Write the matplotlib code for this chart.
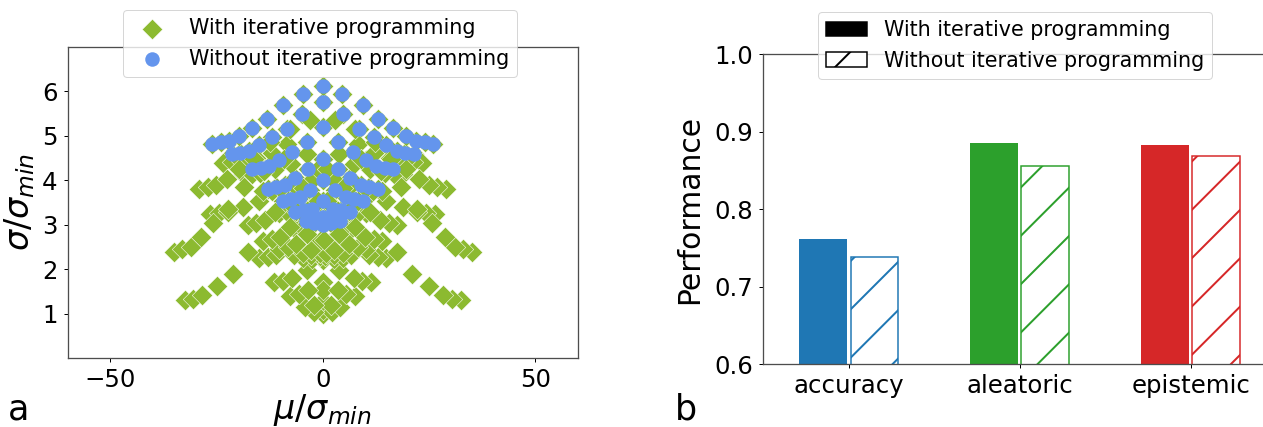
import numpy as np
import matplotlib.pyplot as plt
from matplotlib.patches import Patch

# ---------------- panel a : weight mean / std (in units of sigma_min) ----------------
# without iterative programming (blue dots)
blue_mu = [0, 0, 0, 0, 0, 0, 0, 0, 0,
           2, 4, 6.4, 9.4, 12.9, 16.6, 21.4, 26, -2, -4, -6.4, -9.4, -12.9, -16.6, -21.4, -26,
           2, 4.4, 7.4, 10.9, 14.6, 19.4, 24, -2, -4.4, -7.4, -10.9, -14.6, -19.4, -24,
           2.4, 5.4, 8.9, 12.6, 17.4, 22, -2.4, -5.4, -8.9, -12.6, -17.4, -22,
           3, 6.5, 10.2, 15, 19.6, -3, -6.5, -10.2, -15, -19.6,
           3.5, 7.2, 12, 16.6, -3.5, -7.2, -12, -16.6,
           3.7, 8.5, 13.1, -3.7, -8.5, -13.1,
           4.8, 9.4, -4.8, -9.4,
           4.6, -4.6]
blue_sigma = [3.00, 3.08, 3.18, 3.54, 4.00, 4.48, 5.20, 5.76, 6.12,
              3.04, 3.09, 3.28, 3.54, 3.81, 4.25, 4.59, 4.82, 3.04, 3.09, 3.28, 3.54, 3.81, 4.25, 4.59, 4.82,
              3.13, 3.32, 3.57, 3.85, 4.28, 4.62, 4.85, 3.13, 3.32, 3.57, 3.85, 4.28, 4.62, 4.85,
              3.36, 3.62, 3.89, 4.31, 4.65, 4.88, 3.36, 3.62, 3.89, 4.31, 4.65, 4.88,
              3.78, 4.04, 4.45, 4.78, 5.00, 3.78, 4.04, 4.45, 4.78, 5.00,
              4.25, 4.64, 4.96, 5.17, 4.25, 4.64, 4.96, 5.17,
              4.86, 5.16, 5.37, 4.86, 5.16, 5.37,
              5.49, 5.68, 5.49, 5.68,
              5.94, 5.94]

# with iterative programming: the points above plus these (green diamonds)
green_only_mu = [0, 0, 0, 0, 0, 0, 0, 0,
                 2.1, 4.1, 7.6, 11.4, 15.0, 32.5, 2.0, 5.5, 9.3, 12.9, 30.4, 3.5, 7.3, 10.9, 28.4,
                 3.8, 7.4, 24.9, 3.6, 21.1, 17.5,
                 -2.1, -4.1, -7.6, -11.4, -15.0, -32.5, -2.0, -5.5, -9.3, -12.9, -30.4, -3.5, -7.3, -10.9, -28.4,
                 -3.8, -7.4, -24.9, -3.6, -21.1, -17.5,
                 26.4, 24.3, 22.3, 18.8, 15.0, 11.4, 6.1,
                 -26.4, -24.3, -22.3, -18.8, -15.0, -11.4, -6.1,
                 -2.6, -0.6, 1.4, 3.8, 6.8, 10.3, 14.0, 18.8, 23.4,
                 2.6, 0.6, -1.4, -3.8, -6.8, -10.3, -14.0, -18.8, -23.4,
                 -4.7, -2.7, -0.7, 1.7, 4.7, 8.2, 11.9, 16.7, 21.3,
                 4.7, 2.7, 0.7, -1.7, -4.7, -8.2, -11.9, -16.7, -21.3,
                 -6.7, -4.7, -2.7, -0.3, 2.7, 6.2, 9.9, 14.7, 19.3,
                 6.7, 4.7, 2.7, 0.3, -2.7, -6.2, -9.9, -14.7, -19.3,
                 -10.2, -8.2, -6.2, -3.8, -0.8, 2.7, 6.4, 11.2, 15.8,
                 10.2, 8.2, 6.2, 3.8, 0.8, -2.7, -6.4, -11.2, -15.8,
                 -14.0, -12.0, -10.0, -7.6, -4.6, -1.1, 2.6, 7.4, 12.0,
                 14.0, 12.0, 10.0, 7.6, 4.6, 1.1, -2.6, -7.4, -12.0,
                 -17.6, -15.6, -13.6, -11.2, -8.2, -4.7, -1.0, 3.8, 8.4,
                 17.6, 15.6, 13.6, 11.2, 8.2, 4.7, 1.0, -3.8, -8.4,
                 -35.1, -33.1, -31.1, -28.7, -25.7, -22.2, -18.5, -13.7, -9.1,
                 35.1, 33.1, 31.1, 28.7, 25.7, 22.2, 18.5, 13.7, 9.1,
                 29.0, 27.0, 25.0, 22.6, 19.6, 16.1, 12.4, 7.6, 3.0,
                 -29.0, -27.0, -25.0, -22.6, -19.6, -16.1, -12.4, -7.6, -3.0]
green_only_sigma = [1.00, 1.08, 1.29, 1.71, 2.20, 3.01, 1.54, 4.47,
                    1.04, 1.15, 1.40, 1.71, 2.24, 1.30, 1.19, 1.43, 1.73, 2.26, 1.33, 1.52, 1.80, 2.31, 1.42,
                    1.97, 2.45, 1.63, 2.63, 1.90, 2.39,
                    1.04, 1.15, 1.40, 1.71, 2.24, 1.30, 1.19, 1.43, 1.73, 2.26, 1.33, 1.52, 1.80, 2.31, 1.42,
                    1.97, 2.45, 1.63, 2.63, 1.90, 2.39,
                    3.24, 3.25, 3.29, 3.39, 3.52, 3.81, 3.35,
                    3.24, 3.25, 3.29, 3.39, 3.52, 3.81, 3.35,
                    2.23, 2.29, 2.36, 2.60, 2.92, 3.25, 3.75, 4.13, 4.39,
                    2.23, 2.29, 2.36, 2.60, 2.92, 3.25, 3.75, 4.13, 4.39,
                    2.25, 2.31, 2.37, 2.61, 2.93, 3.26, 3.76, 4.14, 4.40,
                    2.25, 2.31, 2.37, 2.61, 2.93, 3.26, 3.76, 4.14, 4.40,
                    2.31, 2.36, 2.43, 2.66, 2.97, 3.30, 3.79, 4.17, 4.42,
                    2.31, 2.36, 2.43, 2.66, 2.97, 3.30, 3.79, 4.17, 4.42,
                    2.44, 2.49, 2.56, 2.78, 3.08, 3.39, 3.87, 4.25, 4.50,
                    2.44, 2.49, 2.56, 2.78, 3.08, 3.39, 3.87, 4.25, 4.50,
                    2.63, 2.68, 2.73, 2.94, 3.23, 3.53, 4.00, 4.36, 4.60,
                    2.63, 2.68, 2.73, 2.94, 3.23, 3.53, 4.00, 4.36, 4.60,
                    3.00, 3.04, 3.10, 3.28, 3.54, 3.82, 4.25, 4.59, 4.82,
                    3.00, 3.04, 3.10, 3.28, 3.54, 3.82, 4.25, 4.59, 4.82,
                    2.38, 2.44, 2.50, 2.73, 3.03, 3.35, 3.84, 4.21, 4.47,
                    2.38, 2.44, 2.50, 2.73, 3.03, 3.35, 3.84, 4.21, 4.47,
                    3.81, 3.84, 3.88, 4.03, 4.24, 4.48, 4.85, 5.15, 5.36,
                    3.81, 3.84, 3.88, 4.03, 4.24, 4.48, 4.85, 5.15, 5.36]

green_mu = blue_mu + green_only_mu
green_sigma = blue_sigma + green_only_sigma

# ---------------- panel b : performance ----------------
metrics = ['accuracy', 'aleatoric', 'epistemic']
perf_with = [0.761, 0.885, 0.883]
perf_without = [0.738, 0.855, 0.868]
bar_colors = ['tab:blue', 'tab:green', 'tab:red']

# small figure at high dpi (sizes below are given in output pixels)
DPI = 290


def px(v):
    return v * 72 / DPI


plt.rcParams['font.family'] = 'DejaVu Sans'
plt.rcParams['hatch.linewidth'] = px(2.0)
plt.rcParams['axes.linewidth'] = px(1.3)
plt.rcParams['axes.edgecolor'] = '0.3'
for a in ['x', 'y']:
    plt.rcParams[a + 'tick.major.size'] = px(4.4)
    plt.rcParams[a + 'tick.major.width'] = px(1.0)
    plt.rcParams[a + 'tick.major.pad'] = px(5.6)
    plt.rcParams[a + 'tick.labelsize'] = px(24.4)

fig = plt.figure(figsize=(1263 / DPI, 427 / DPI), dpi=DPI)

# panel a
ax1 = fig.add_axes([0.0536, 0.1616, 0.4038, 0.729])
ms = px(14.5) ** 2
ax1.scatter(green_mu, green_sigma, marker='D', s=ms, c='#8cba30',
            edgecolors='w', linewidths=px(0.5), label='With iterative programming')
ax1.scatter(blue_mu, blue_sigma, marker='o', s=ms, c='#6495ed',
            linewidths=0, label='Without iterative programming')
ax1.set_xlim(-60, 60)
ax1.set_ylim(0, 7)
ax1.set_xticks([-50, 0, 50])
ax1.set_yticks([1, 2, 3, 4, 5, 6])
ax1.set_xlabel(r'$\mu/\sigma_{min}$', fontsize=px(33.4), labelpad=0)
ax1.set_ylabel(r'$\sigma/\sigma_{min}$', fontsize=px(33.4), labelpad=px(5))
leg1 = ax1.legend(loc='upper center', bbox_to_anchor=(0.495, 1.118), borderaxespad=0,
                  fontsize=px(20.6))
leg1.get_frame().set_linewidth(px(1.0))

# panel b
ax2 = fig.add_axes([0.6044, 0.1468, 0.406, 0.7267])
x = np.arange(len(metrics))
ax2.bar(x - 0.15, perf_with, 0.28, color=bar_colors)
ax2.bar(x + 0.15, perf_without, 0.28, color='w', edgecolor=bar_colors,
        hatch='//', linewidth=px(1.5))
ax2.set_xlim(-0.5, 2.5)
ax2.set_ylim(0.6, 1.0)
ax2.set_yticks([0.6, 0.7, 0.8, 0.9, 1.0])
ax2.set_xticks(x)
ax2.set_xticklabels(metrics)
ax2.set_ylabel('Performance', fontsize=px(29.8), labelpad=px(10))
handles = [Patch(facecolor='k', edgecolor='k', linewidth=px(1.5)),
           Patch(facecolor='w', edgecolor='k', hatch='///', linewidth=px(1.5))]
leg2 = ax2.legend(handles, ['With iterative programming', 'Without iterative programming'],
                  loc='upper center', bbox_to_anchor=(0.491, 1.135), borderaxespad=0,
                  fontsize=px(20.6))
leg2.get_frame().set_linewidth(px(1.0))

fig.text(8 / 1263, 7 / 427, 'a', fontsize=px(35))
fig.text(675 / 1263, 7 / 427, 'b', fontsize=px(35))

fig.savefig('out.png', dpi=DPI)
